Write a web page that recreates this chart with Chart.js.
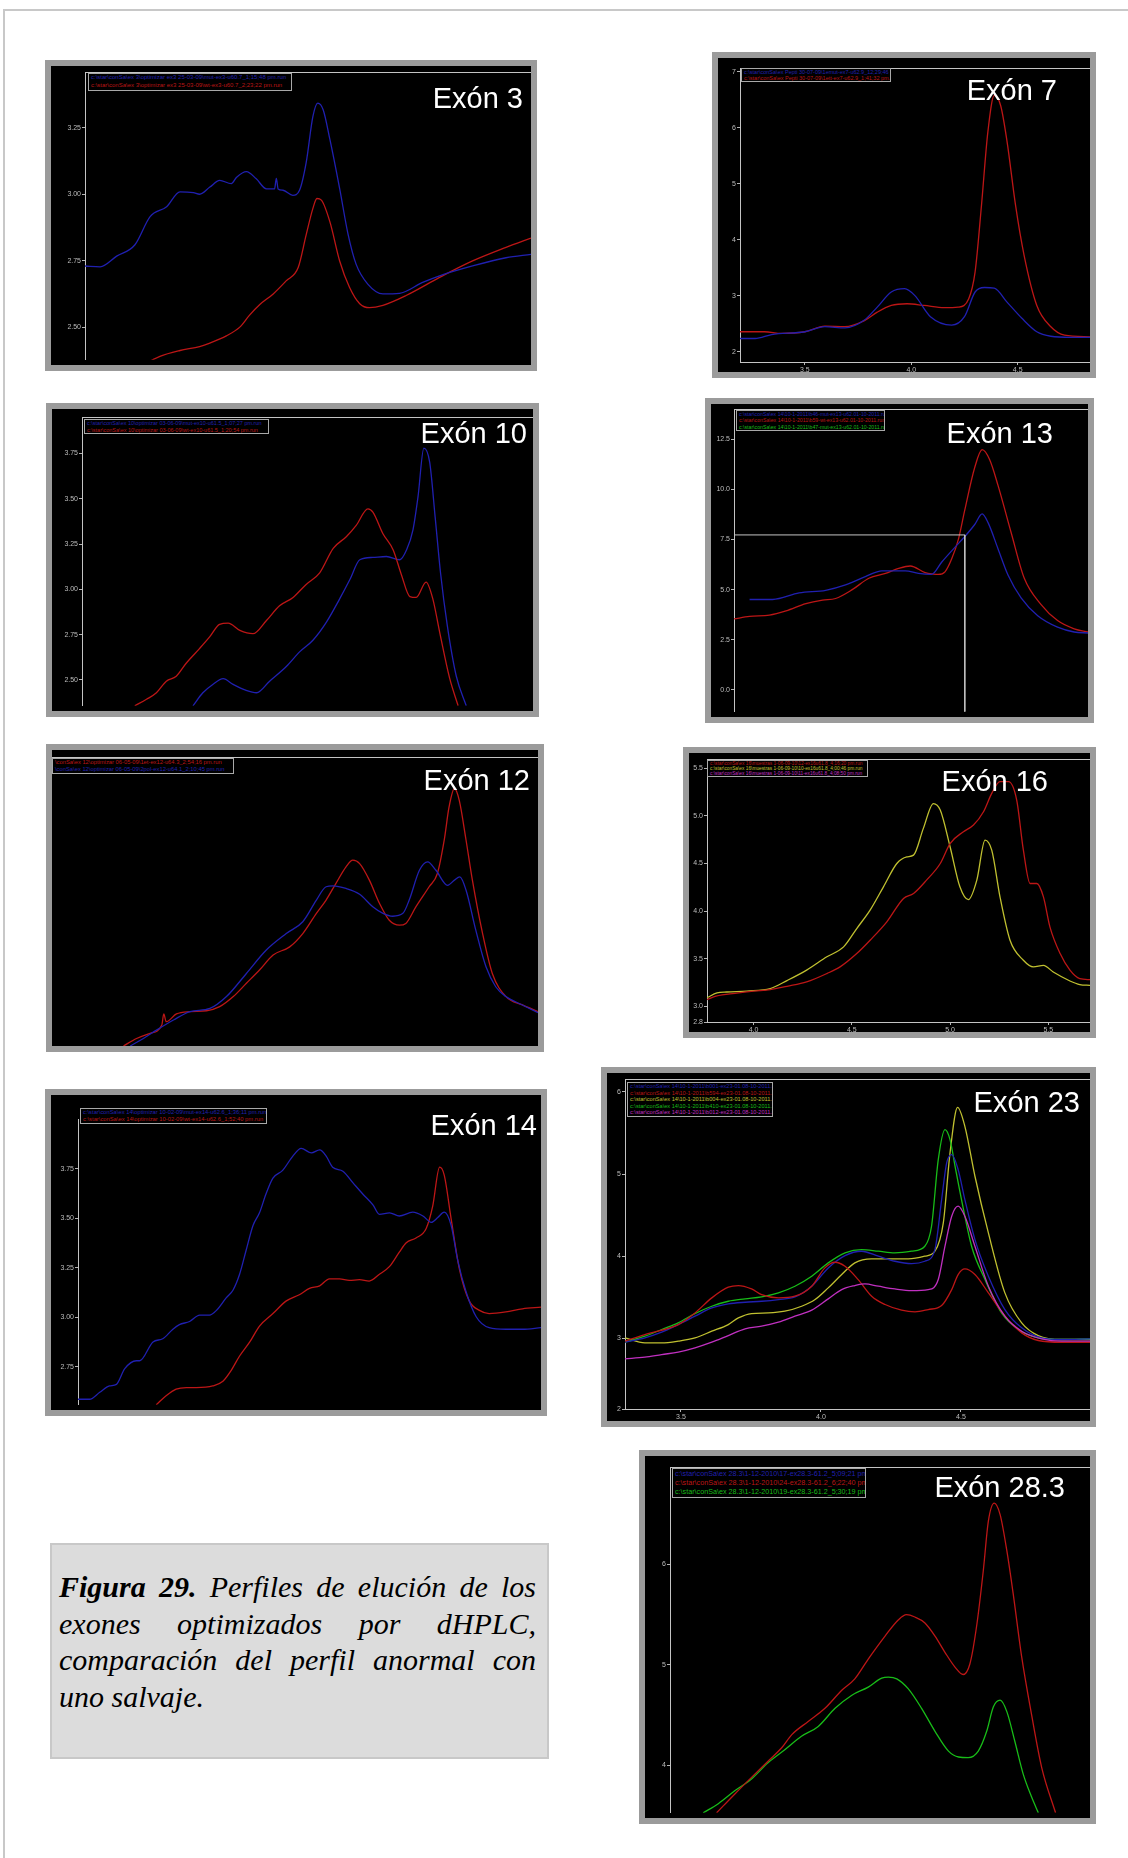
<!DOCTYPE html>
<html>
<head>
<meta charset="utf-8">
<script src="https://cdn.jsdelivr.net/npm/chart.js@4.4.1/dist/chart.umd.min.js"></script>
<style>
    html, body { margin: 0; padding: 0; background: #fff; }
    body { width: 1128px; height: 1858px; position: relative; overflow: hidden; font-family: "Liberation Sans", Arial, sans-serif; }
    .frameTop { position: absolute; left: 4px; top: 9px; width: 1124px; height: 2px; background: #c8c8c8; }
    .frameLeft { position: absolute; left: 3px; top: 9px; width: 2px; height: 1849px; background: #c8c8c8; }
    .panel { position: absolute; box-sizing: border-box; border: 6px solid #9b9b9b; background: #000; }
    .panel canvas { position: absolute; left: 0; top: 0; }
    .exon { position: absolute; color: #fff; font-size: 29px; line-height: 29px; white-space: nowrap; }
    .runs { position: absolute; box-sizing: border-box; border: 1px solid #a8a8a8; background: #000; overflow: hidden; padding: 0 2px; }
    .runs div { white-space: nowrap; }
    .caption {
        position: absolute; left: 50px; top: 1543px; width: 499px; height: 216px;
        box-sizing: border-box; border: 2px solid #c8c8c8; background: #dcdcdc;
        padding: 24px 11px 0 7px; color: #000;
        font-family: "Liberation Serif", "Times New Roman", serif; font-style: italic;
        font-size: 30px; line-height: 36.7px;
    }
    .caption div { white-space: nowrap; }
    .caption .j { text-align: justify; text-align-last: justify; }
</style>
</head>
<body>
<div class="frameTop"></div>
<div class="frameLeft"></div>

<div class="caption">
    <div class="j"><b>Figura 29.</b> Perfiles de elución de los</div>
    <div class="j">exones optimizados por dHPLC,</div>
    <div class="j">comparación del perfil anormal con</div>
    <div>uno salvaje.</div>
</div>

<script>
// colores de las trazas
const BLUE = "#2020b0", RED = "#bc1616", GREEN = "#18bc18", YELLOW = "#c0c030", MAGENTA = "#c030c0";

// ---- Exón 3 (x en % del ancho, sin eje x) ----
const ex3YTicks = [2.50, 2.75, 3.00, 3.25];
const ex3Blue = [[0,2.73],[3.4,2.727],[7.1,2.767],[11.2,2.81],[14.6,2.916],[18.3,2.953],[21.3,3.009],[24.3,3.006],[25.7,3.0],[28.0,3.027],[30.2,3.052],[32.8,3.04],[34.0,3.064],[36.2,3.085],[38.4,3.058],[40.7,3.02],[42.5,3.02],[42.9,3.06],[43.3,3.02],[44.4,3.015],[46.6,2.996],[48.1,3.015],[49.6,3.12],[51.1,3.293],[52.2,3.343],[53.4,3.318],[54.9,3.207],[57.1,3.021],[59.0,2.848],[60.8,2.736],[63.4,2.662],[66.8,2.625],[70.5,2.627],[75.7,2.668],[79.5,2.693],[86.9,2.73],[94.4,2.761],[100,2.774]];
const ex3Red = [[13.8,2.365],[16.8,2.39],[21.3,2.412],[25.7,2.427],[28.0,2.44],[31.7,2.467],[34.7,2.5],[36.9,2.545],[39.2,2.585],[42.2,2.625],[45.1,2.674],[47.8,2.724],[49.6,2.848],[51.1,2.947],[52.0,2.984],[53.0,2.978],[54.9,2.897],[57.1,2.749],[59.3,2.65],[61.6,2.588],[63.8,2.573],[66.8,2.582],[72.0,2.619],[79.5,2.687],[86.9,2.749],[94.4,2.8],[100,2.835]];
const ex3Runs = ["c:\\star\\conSa\\ex 3\\optimizar ex3 25-03-09\\mut-ex3-u60.7_1;15;48 pm.run", "c:\\star\\conSa\\ex 3\\optimizar ex3 25-03-09\\wt-ex3-u60.7_2;23;22 pm.run"];

// ---- Exón 7 ----
const ex7XTicks = [3.5, 4.0, 4.5];
const ex7YTicks = [2, 3, 4, 5, 6, 7];
const ex7Blue = [[3.195,2.24],[3.266,2.24],[3.344,2.31],[3.5,2.36],[3.594,2.45],[3.688,2.43],[3.78,2.57],[3.84,2.80],[3.906,3.07],[3.969,3.13],[4.016,3.01],[4.09,2.63],[4.19,2.48],[4.25,2.63],[4.30,3.07],[4.344,3.15],[4.39,3.14],[4.45,2.89],[4.52,2.60],[4.59,2.36],[4.656,2.28],[4.75,2.26],[4.84,2.26]];
const ex7Red = [[3.195,2.36],[3.31,2.36],[3.39,2.33],[3.5,2.36],[3.594,2.46],[3.688,2.45],[3.78,2.56],[3.84,2.71],[3.906,2.83],[3.98,2.86],[4.06,2.83],[4.156,2.79],[4.22,2.80],[4.27,2.95],[4.30,3.43],[4.33,4.62],[4.36,5.93],[4.39,6.58],[4.42,6.40],[4.45,5.76],[4.49,4.62],[4.53,3.73],[4.59,2.83],[4.656,2.45],[4.72,2.30],[4.84,2.27]];
const ex7Runs = ["c:\\star\\conSa\\ex Pepti 30-07-09\\1emut-ex7-u62.9_12;29;46 pm.run", "c:\\star\\conSa\\ex Pepti 30-07-09\\1ett-ex7-u62.9_1;41;32 pm.run"];

// ---- Exón 10 ----
const ex10YTicks = [2.50, 2.75, 3.00, 3.25, 3.50, 3.75];
const ex10Red = [[11.7,2.357],[14.3,2.393],[16.5,2.429],[18.7,2.493],[20.9,2.52],[23.1,2.592],[26.1,2.674],[28.3,2.737],[30.5,2.806],[32.4,2.813],[35.0,2.773],[37.9,2.755],[40.9,2.828],[43.8,2.909],[46.8,2.955],[49.7,3.027],[52.7,3.091],[55.7,3.226],[58.6,3.29],[60.8,3.353],[63.4,3.444],[64.5,3.426],[66.7,3.308],[69.0,3.217],[70.8,3.082],[72.7,2.96],[74.1,2.955],[76.3,3.04],[77.8,2.946],[79.3,2.764],[81.5,2.511],[83.4,2.357]];
const ex10Blue = [[24.6,2.357],[26.8,2.429],[29.0,2.475],[31.3,2.507],[33.5,2.475],[36.4,2.442],[38.7,2.429],[41.6,2.493],[45.3,2.574],[48.3,2.656],[51.2,2.719],[54.2,2.819],[57.1,2.946],[59.4,3.054],[61.6,3.163],[64.5,3.176],[67.5,3.181],[70.4,3.163],[72.0,3.22],[73.4,3.33],[74.5,3.51],[75.8,3.779],[77.1,3.70],[78.3,3.40],[79.5,3.09],[81.0,2.80],[83.0,2.52],[85.2,2.357]];
const ex10Runs = ["c:\\star\\conSa\\ex 10\\optimizar 03-06-09\\mut-ex10-u61.5_1;07;27 pm.run", "c:\\star\\conSa\\ex 10\\optimizar 03-06-09\\wt-ex10-u61.5_1;20;54 pm.run"];

// ---- Exón 13 ----
const ex13YTicks = [0, 2.5, 5, 7.5, 10, 12.5];
const ex13Blue = [[4.4,4.51],[10.9,4.51],[18.4,4.84],[25.9,4.97],[31.5,5.24],[37.1,5.65],[41.8,5.94],[48.4,5.94],[52.1,5.81],[55.8,5.76],[58.7,6.38],[62.4,7.11],[65.2,7.65],[68.0,8.25],[70.1,8.78],[71.8,8.33],[74.6,7.03],[77.4,5.73],[81.1,4.59],[85.8,3.70],[91.4,3.13],[96.1,2.89],[100,2.84]];
const ex13Red = [[0,3.54],[4.4,3.67],[10.0,3.73],[14.7,3.94],[20.3,4.30],[25.0,4.48],[28.7,4.56],[33.4,5.00],[38.1,5.57],[42.8,5.81],[46.5,6.06],[49.8,6.18],[54.0,5.85],[56.3,5.78],[57.7,5.76],[59.6,5.89],[61.5,6.54],[63.4,7.52],[65.2,8.98],[68.0,11.09],[70.1,11.98],[72.2,11.49],[74.6,10.19],[78.3,7.84],[82.0,5.57],[86.7,4.27],[91.4,3.46],[96.1,3.05],[100,2.89]];
const ex13Zoom = [[0,7.73],[65.2,7.73],[65.2,-1.09]];
const ex13Runs = ["c:\\star\\conSa\\ex 14\\10-1-2011\\b46-mut-ex13-u62.01-10-2011.run", "c:\\star\\conSa\\ex 14\\10-1-2011\\b59-wt-ex13-u62.01-10-2011.run", "c:\\star\\conSa\\ex 14\\10-1-2011\\b47-mut-ex13-u62.01-10-2011.run"];

// ---- Exón 12 (sin ejes) ----
const ex12Red = [[14.7,0],[17.4,2.6],[20.2,4.4],[22.6,7.3],[23.0,11.1],[23.5,8.4],[25.6,11.1],[28.4,11.9],[31.8,12.2],[34.5,13.6],[37.3,17.1],[40.0,21.7],[42.7,26.3],[45.5,31.5],[48.9,34.3],[51.6,38.9],[54.4,45.9],[56.4,50.5],[58.4,56.2],[60.5,62.0],[61.9,64.3],[63.3,63.1],[65.3,57.4],[67.4,49.3],[69.4,43.5],[71.5,41.8],[72.8,42.4],[74.9,48.2],[77.6,55.1],[79.3,59.7],[80.7,71.2],[81.7,82.7],[82.8,89.1],[83.8,85.0],[85.2,71.2],[86.5,57.4],[88.6,38.9],[90.6,25.1],[93.4,17.1],[96.8,14.2],[100,11.9]];
const ex12Blue = [[16.1,0],[18.8,2.6],[21.5,5.5],[25.0,9.0],[28.4,11.9],[32.5,13.0],[35.9,17.1],[40.0,25.1],[44.1,33.2],[48.2,38.9],[51.6,43.0],[54.4,50.5],[56.4,55.1],[57.8,55.4],[60.5,54.5],[63.3,52.5],[66.0,48.2],[68.1,45.9],[70.1,44.9],[72.2,45.9],[73.5,50.5],[75.6,60.8],[77.3,63.7],[79.0,60.8],[81.4,55.6],[82.8,57.4],[83.9,58.5],[85.2,53.9],[87.2,40.1],[89.3,27.4],[91.3,20.5],[93.4,17.1],[96.8,14.2],[100,11.5]];
const ex12Runs = ["\\conSa\\ex 12\\optimizar 06-05-09\\1et-ex12-u64.3_2;54;16 pm.run", "\\conSa\\ex 12\\optimizar 06-05-09\\2pol-ex12-u64.1_2;10;45 pm.run"];

// ---- Exón 16 ----
const ex16XTicks = [4.0, 4.5, 5.0, 5.5];
const ex16YTicks = [2.835, 3.0, 3.5, 4.0, 4.5, 5.0, 5.5];
const ex16YLabels = ["2.8", "3.0", "3.5", "4.0", "4.5", "5.0", "5.5"];
const ex16Red = [[3.763,3.07],[3.797,3.10],[3.88,3.13],[4.0,3.16],[4.085,3.175],[4.17,3.21],[4.27,3.256],[4.373,3.344],[4.44,3.414],[4.525,3.554],[4.593,3.694],[4.678,3.887],[4.763,4.133],[4.814,4.185],[4.88,4.325],[4.95,4.50],[5.0,4.71],[5.068,4.834],[5.119,4.904],[5.17,5.044],[5.212,5.237],[5.254,5.36],[5.297,5.36],[5.339,5.167],[5.373,4.64],[5.407,4.29],[5.441,4.29],[5.475,4.15],[5.508,3.835],[5.56,3.554],[5.61,3.379],[5.66,3.29],[5.712,3.28]];
const ex16Yellow = [[3.763,3.09],[3.814,3.14],[3.864,3.15],[3.966,3.16],[4.085,3.186],[4.17,3.27],[4.27,3.38],[4.373,3.52],[4.458,3.624],[4.525,3.817],[4.593,4.01],[4.661,4.255],[4.729,4.50],[4.78,4.57],[4.814,4.588],[4.864,4.869],[4.915,5.13],[4.95,5.062],[5.0,4.676],[5.05,4.255],[5.093,4.12],[5.136,4.325],[5.178,4.746],[5.212,4.64],[5.254,4.15],[5.305,3.694],[5.373,3.484],[5.424,3.414],[5.475,3.43],[5.525,3.36],[5.61,3.266],[5.66,3.228],[5.712,3.22]];
const ex16Runs = ["c:\\star\\conSa\\ex 16\\muestras 1-06-09-10\\12-ex16u61.8_4;16;20 pm.run", "c:\\star\\conSa\\ex 16\\muestras 1-06-09-10\\10-ex16u61.8_4;00;46 pm.run", "c:\\star\\conSa\\ex 16\\muestras 1-06-09-10\\11-ex16u61.8_4;08;50 pm.run"];

// ---- Exón 14 ----
const ex14YTicks = [2.75, 3.00, 3.25, 3.50, 3.75];
const ex14Blue = [[0,2.587],[2.5,2.587],[4.7,2.622],[6.8,2.654],[8.3,2.662],[10.1,2.741],[12.6,2.781],[13.3,2.781],[16.2,2.876],[18.3,2.892],[20.5,2.94],[21.9,2.963],[24.1,2.979],[26.3,3.011],[28.4,3.011],[29.9,3.035],[32.0,3.098],[33.5,3.138],[34.9,3.217],[36.3,3.337],[37.8,3.463],[39.2,3.527],[40.6,3.622],[42.1,3.702],[44.2,3.741],[46.4,3.813],[48.2,3.852],[50.4,3.829],[52.2,3.844],[53.6,3.813],[55.0,3.757],[57.2,3.737],[59.4,3.678],[61.5,3.622],[63.7,3.567],[65.1,3.519],[67.3,3.527],[69.4,3.511],[72.3,3.53],[74.5,3.511],[76.3,3.479],[77.7,3.503],[79.1,3.53],[80.6,3.463],[82.0,3.289],[83.8,3.13],[86.0,3.003],[88.8,2.948],[92.4,2.94],[96.0,2.94],[100,2.948]];
const ex14Red = [[16.9,2.559],[19.1,2.606],[21.2,2.638],[23.4,2.646],[25.5,2.646],[29.1,2.654],[31.3,2.678],[33.1,2.733],[34.9,2.805],[37.1,2.876],[39.2,2.956],[42.1,3.019],[45.0,3.083],[47.8,3.114],[50.0,3.146],[52.2,3.159],[54.3,3.194],[56.5,3.194],[58.6,3.186],[60.8,3.19],[62.9,3.183],[65.1,3.217],[67.3,3.257],[69.4,3.329],[70.9,3.376],[73.0,3.40],[75.2,3.448],[76.6,3.559],[78.1,3.757],[79.1,3.717],[80.6,3.495],[82.4,3.241],[84.5,3.083],[86.7,3.035],[88.8,3.019],[92.4,3.027],[96.0,3.043],[100,3.051]];
const ex14Runs = ["c:\\star\\conSa\\ex 14\\optimizar 10-02-09\\mut-ex14-u62.6_1;36;11 pm.run", "c:\\star\\conSa\\ex 14\\optimizar 10-02-09\\wt-ex14-u62.6_1;52;40 pm.run"];

// ---- Exón 23 ----
const ex23XTicks = [3.5, 4.0, 4.5];
const ex23YTicks = [2.14, 3, 4, 5, 6];
const ex23YLabels = ["2", "3", "4", "5", "6"];
const ex23Red = [[3.30,2.966],[3.371,3.047],[3.49,3.168],[3.55,3.31],[3.61,3.493],[3.669,3.623],[3.705,3.643],[3.752,3.602],[3.788,3.533],[3.848,3.493],[3.907,3.513],[3.967,3.635],[4.014,3.858],[4.05,3.927],[4.086,3.878],[4.133,3.716],[4.181,3.513],[4.229,3.412],[4.288,3.343],[4.336,3.323],[4.383,3.351],[4.431,3.40],[4.467,3.594],[4.49,3.777],[4.514,3.846],[4.55,3.777],[4.598,3.554],[4.657,3.27],[4.717,3.067],[4.776,2.974],[4.86,2.953],[4.961,2.953]];
const ex23Green = [[3.30,2.953],[3.371,3.026],[3.431,3.108],[3.49,3.189],[3.55,3.302],[3.61,3.391],[3.669,3.452],[3.729,3.481],[3.788,3.505],[3.848,3.554],[3.907,3.635],[3.967,3.757],[4.026,3.919],[4.086,4.041],[4.145,4.081],[4.205,4.061],[4.264,4.041],[4.324,4.061],[4.371,4.122],[4.395,4.365],[4.419,5.176],[4.443,5.542],[4.461,5.42],[4.479,5.095],[4.502,4.69],[4.538,4.122],[4.586,3.716],[4.645,3.31],[4.705,3.108],[4.776,3.006],[4.86,2.986],[4.961,2.994]];
const ex23Blue = [[3.30,2.953],[3.371,3.006],[3.431,3.075],[3.49,3.168],[3.55,3.27],[3.61,3.371],[3.669,3.42],[3.729,3.44],[3.788,3.452],[3.848,3.473],[3.907,3.505],[3.967,3.635],[4.026,3.858],[4.086,4.008],[4.145,4.061],[4.205,4.0],[4.264,3.939],[4.324,3.911],[4.371,3.939],[4.407,4.081],[4.431,4.69],[4.449,5.136],[4.467,5.237],[4.49,5.055],[4.514,4.69],[4.55,4.203],[4.598,3.757],[4.657,3.351],[4.717,3.128],[4.788,3.006],[4.86,2.986],[4.961,2.994]];
const ex23Yellow = [[3.30,3.006],[3.371,2.945],[3.431,2.945],[3.49,2.966],[3.55,3.006],[3.61,3.087],[3.669,3.168],[3.705,3.249],[3.752,3.302],[3.812,3.31],[3.871,3.331],[3.931,3.391],[3.979,3.473],[4.026,3.615],[4.074,3.777],[4.121,3.919],[4.181,3.968],[4.24,3.968],[4.312,3.968],[4.371,4.0],[4.407,4.061],[4.437,4.406],[4.461,5.258],[4.488,5.813],[4.514,5.582],[4.55,4.974],[4.598,4.284],[4.657,3.554],[4.717,3.189],[4.776,3.034],[4.86,2.986],[4.961,2.986]];
const ex23Magenta = [[3.30,2.751],[3.371,2.771],[3.431,2.803],[3.49,2.832],[3.55,2.884],[3.61,2.953],[3.669,3.034],[3.729,3.116],[3.788,3.148],[3.848,3.197],[3.907,3.27],[3.967,3.343],[4.026,3.481],[4.074,3.594],[4.121,3.643],[4.157,3.663],[4.205,3.635],[4.264,3.602],[4.324,3.582],[4.383,3.594],[4.419,3.716],[4.443,4.122],[4.467,4.487],[4.49,4.609],[4.514,4.487],[4.55,4.122],[4.598,3.635],[4.657,3.27],[4.717,3.087],[4.788,2.994],[4.86,2.966],[4.961,2.966]];
const ex23Runs = ["c:\\star\\conSa\\ex 14\\10-1-2011\\b001-ex23-01.08-10-2011.run", "c:\\star\\conSa\\ex 14\\10-1-2011\\b594-ex23-01.08-10-2011.run", "c:\\star\\conSa\\ex 14\\10-1-2011\\b004-ex23-01.08-10-2011.run", "c:\\star\\conSa\\ex 14\\10-1-2011\\b410-ex23-01.08-10-2011.run", "c:\\star\\conSa\\ex 14\\10-1-2011\\b012-ex23-01.08-10-2011.run"];

// ---- Exón 28.3 ----
const ex28YTicks = [4, 5, 6];
const ex28Red = [[11.1,3.524],[15.5,3.714],[19.4,3.877],[23.4,4.041],[26.6,4.172],[29.0,4.303],[32.9,4.434],[36.9,4.565],[40.9,4.745],[44.0,4.859],[47.2,5.056],[51.2,5.285],[54.4,5.448],[56.3,5.498],[58.3,5.475],[60.7,5.416],[63.1,5.285],[65.5,5.121],[67.9,4.974],[69.8,4.902],[71.4,5.007],[73.0,5.383],[74.6,5.939],[75.8,6.43],[77.2,6.61],[78.6,6.496],[80.2,6.136],[81.7,5.71],[83.7,5.088],[86.1,4.499],[88.5,3.975],[91.8,3.524]];
const ex28Green = [[7.9,3.524],[11.5,3.615],[15.5,3.746],[19.4,3.861],[23.4,4.025],[27.4,4.155],[31.3,4.286],[35.3,4.385],[39.3,4.565],[43.3,4.696],[47.2,4.777],[50.4,4.866],[52.0,4.876],[54.0,4.859],[56.7,4.761],[59.9,4.565],[63.1,4.336],[66.3,4.139],[68.7,4.08],[71.0,4.074],[73.4,4.139],[75.4,4.336],[77.0,4.581],[78.6,4.646],[80.2,4.532],[82.1,4.237],[84.1,3.91],[86.1,3.681],[87.7,3.524]];
const ex28Runs = ["c:\\star\\conSa\\ex 28.3\\1-12-2010\\17-ex28.3-61.2_5;09;21 pm.run", "c:\\star\\conSa\\ex 28.3\\1-12-2010\\24-ex28.3-61.2_6;22;40 pm.run", "c:\\star\\conSa\\ex 28.3\\1-12-2010\\19-ex28.3-61.2_5;30;19 pm.run"];

// paneles: caja exterior, desplazamientos del area de trazado, escalas, rotulos
const panels = [
    { box: [45, 60, 492, 311], left: 34, top: 6, bottom: 0, topLine: true,
      x: { min: 0, max: 100 }, y: { min: 2.377, max: 3.46, ticks: ex3YTicks, dec: 2 },
      series: [[ex3Blue, BLUE], [ex3Red, RED]],
      label: ["Exón 3", 523, 108], legend: [88, 73, 204, 18, 6, 7.5], runs: ex3Runs, runColors: [BLUE, RED] },
    { box: [712, 52, 384, 326], left: 22, top: 10, bottom: 10, topLine: true,
      x: { min: 3.195, max: 4.84, ticks: ex7XTicks, dec: 1 }, y: { min: 1.82, max: 7.07, ticks: ex7YTicks, dec: 0 },
      series: [[ex7Blue, BLUE], [ex7Red, RED]],
      label: ["Exón 7", 1057, 100], legend: [741, 68, 150, 14, 5.5, 6], runs: ex7Runs, runColors: [BLUE, RED] },
    { box: [46, 403, 493, 314], left: 30, top: 8, bottom: 0, topLine: true,
      x: { min: 0, max: 100 }, y: { min: 2.357, max: 3.951, ticks: ex10YTicks, dec: 2 },
      series: [[ex10Red, RED], [ex10Blue, BLUE]],
      label: ["Exón 10", 527, 443], legend: [84, 419, 185, 15, 5.5, 6.5], runs: ex10Runs, runColors: [BLUE, RED] },
    { box: [705, 398, 389, 325], left: 23, top: 4, bottom: 0, topLine: true,
      x: { min: 0, max: 100 }, y: { min: -1.09, max: 14.0, ticks: ex13YTicks, dec: 1 },
      series: [[ex13Zoom, "#c4c4c4", true], [ex13Blue, BLUE], [ex13Red, RED]],
      label: ["Exón 13", 1053, 443], legend: [736, 410, 149, 21, 5.2, 6.3], runs: ex13Runs, runColors: [BLUE, RED, GREEN] },
    { box: [46, 744, 498, 308], left: 0, top: 7, bottom: 0, topLine: true, noY: true,
      x: { min: 0, max: 100 }, y: { min: 0, max: 100 },
      series: [[ex12Blue, BLUE], [ex12Red, RED]],
      label: ["Exón 12", 530, 790], legend: [52, 758, 182, 16, 5.8, 7], runs: ex12Runs, runColors: [RED, BLUE] },
    { box: [683, 747, 413, 291], left: 18, top: 6, bottom: 10, topLine: true,
      x: { min: 3.763, max: 5.712, ticks: ex16XTicks, dec: 1 }, y: { min: 2.835, max: 5.598, ticks: ex16YTicks, labels: ex16YLabels },
      series: [[ex16Red, RED], [ex16Yellow, YELLOW]],
      label: ["Exón 16", 1048, 791], legend: [707, 760, 161, 17, 4.8, 5.2], runs: ex16Runs, runColors: [RED, YELLOW, MAGENTA] },
    { box: [45, 1089, 502, 327], left: 27, top: 12, bottom: 0, topLine: false,
      x: { min: 0, max: 100 }, y: { min: 2.559, max: 4.0, ticks: ex14YTicks, dec: 2 },
      series: [[ex14Blue, BLUE], [ex14Red, RED]],
      label: ["Exón 14", 537, 1135], legend: [80, 1108, 187, 16, 5.8, 7], runs: ex14Runs, runColors: [BLUE, RED] },
    { box: [601, 1067, 495, 360], left: 18, top: 6, bottom: 12, topLine: true,
      x: { min: 3.30, max: 4.961, ticks: ex23XTicks, dec: 1 }, y: { min: 2.14, max: 6.158, ticks: ex23YTicks, labels: ex23YLabels },
      series: [[ex23Magenta, MAGENTA], [ex23Red, RED], [ex23Blue, BLUE], [ex23Green, GREEN], [ex23Yellow, YELLOW]],
      label: ["Exón 23", 1080, 1112], legend: [627, 1082, 146, 35, 5.6, 6.6], runs: ex23Runs, runColors: [BLUE, RED, YELLOW, GREEN, MAGENTA] },
    { box: [639, 1450, 457, 374], left: 25, top: 11, bottom: 0, topLine: true,
      x: { min: 0, max: 100 }, y: { min: 3.524, max: 6.97, ticks: ex28YTicks, dec: 0 },
      series: [[ex28Red, RED], [ex28Green, GREEN]],
      label: ["Exón 28.3", 1065, 1497], legend: [672, 1468, 194, 30, 7.2, 9], runs: ex28Runs, runColors: [BLUE, RED, GREEN] }
];

const tickFont = { family: "Liberation Sans", size: 7 };
const AXIS = "#c4c4c4";

function buildPanel(p) {
    const el = document.createElement("div");
    el.className = "panel";
    el.style.left = p.box[0] + "px";
    el.style.top = p.box[1] + "px";
    el.style.width = p.box[2] + "px";
    el.style.height = p.box[3] + "px";
    const cv = document.createElement("canvas");
    cv.width = p.box[2] - 12;
    cv.height = p.box[3] - 12;
    el.appendChild(cv);
    document.body.appendChild(el);

    const datasets = p.series.map(([pts, color, straight]) => ({
        data: pts.map(([x, y]) => ({ x, y })),
        borderColor: color,
        borderWidth: straight ? 1 : 1.3,
        pointRadius: 0,
        fill: false,
        tension: 0,
        cubicInterpolationMode: straight ? "default" : "monotone"
    }));

    const fmt = (axis) => (v, i) => axis.labels ? axis.labels[i] : Number(v).toFixed(axis.dec);

    new Chart(cv, {
        type: "line",
        data: { datasets },
        options: {
            responsive: false,
            animation: false,
            events: [],
            layout: { padding: { left: 0, right: 0, bottom: 0, top: p.topLine ? 0 : p.top } },
            plugins: { legend: { display: false }, tooltip: { enabled: false } },
            scales: {
                x: {
                    type: "linear", position: "bottom", min: p.x.min, max: p.x.max,
                    display: !!p.x.ticks,
                    afterBuildTicks: a => { if (p.x.ticks) a.ticks = p.x.ticks.map(v => ({ value: v })); },
                    afterFit: a => { a.height = p.bottom; },
                    ticks: { color: "#bdbdbd", font: tickFont, padding: 1, maxRotation: 0, autoSkip: false, callback: fmt(p.x) },
                    grid: { drawOnChartArea: false, color: "#b4b4b4", tickLength: 3 },
                    border: { color: AXIS }
                },
                xTop: {
                    type: "linear", position: "top", min: p.x.min, max: p.x.max,
                    display: p.topLine,
                    afterFit: a => { a.height = p.top; },
                    ticks: { display: false },
                    grid: { drawOnChartArea: false, drawTicks: false },
                    border: { color: AXIS }
                },
                y: {
                    type: "linear", position: "left", min: p.y.min, max: p.y.max,
                    display: !p.noY,
                    afterBuildTicks: a => { if (p.y.ticks) a.ticks = p.y.ticks.map(v => ({ value: v })); },
                    afterFit: a => { a.width = p.left; },
                    ticks: { color: "#bdbdbd", font: tickFont, padding: 1, autoSkip: false, callback: fmt(p.y) },
                    grid: { drawOnChartArea: false, color: "#b4b4b4", tickLength: 3 },
                    border: { color: AXIS }
                }
            }
        }
    });

    // recuadro con los nombres de las corridas
    const lg = document.createElement("div");
    lg.className = "runs";
    const [lx, ly, lw, lh, fs, lineH] = p.legend;
    lg.style.left = lx + "px";
    lg.style.top = ly + "px";
    lg.style.width = lw + "px";
    lg.style.height = lh + "px";
    p.runs.forEach((t, i) => {
        const d = document.createElement("div");
        d.textContent = t;
        d.style.color = p.runColors[i];
        d.style.fontSize = fs + "px";
        d.style.lineHeight = lineH + "px";
        lg.appendChild(d);
    });
    document.body.appendChild(lg);

    // rotulo "Exón N"
    const lab = document.createElement("div");
    lab.className = "exon";
    lab.textContent = p.label[0];
    lab.style.right = (1128 - p.label[1]) + "px";
    lab.style.top = (p.label[2] - 24.5) + "px";
    document.body.appendChild(lab);
}

panels.forEach(buildPanel);
</script>
</body>
</html>
